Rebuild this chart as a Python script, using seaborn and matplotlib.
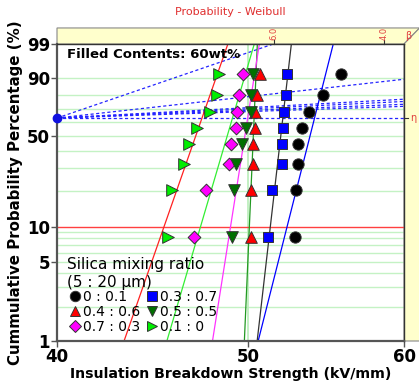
import numpy as np
import pandas as pd
import matplotlib
matplotlib.use('Agg')
import matplotlib.pyplot as plt
import seaborn as sns
from matplotlib.lines import Line2D
from matplotlib.patches import Polygon

# 데이터
ranks = [8.3, 20.2, 32.1, 44.0, 56.0, 67.9, 79.8, 91.7]
labels = ['0 : 0.1', '0.4 : 0.6', '0.7 : 0.3', '0.3 : 0.7', '0.5 : 0.5', '0.1 : 0']
s_0_01 = [52.80, 52.86, 52.98, 53.04, 53.24, 53.72, 54.60, 55.74]
s_04_06 = [50.15, 50.18, 50.30, 50.32, 50.41, 50.43, 50.51, 50.71]
s_07_03 = [46.96, 47.61, 48.90, 49.00, 49.30, 49.35, 49.50, 49.69]
s_03_07 = [51.20, 51.40, 52.01, 52.03, 52.11, 52.12, 52.25, 52.32]
s_05_05 = [49.08, 49.19, 49.30, 49.65, 49.87, 50.16, 50.18, 50.31]
s_01_0 = [45.55, 45.75, 46.40, 46.66, 47.12, 47.83, 48.21, 48.34]

# 회귀선 (1% , 99% 지점의 x값)
fit_lo = [50.60, 49.79, 45.48, 50.54, 47.97, 43.26]
fit_hi = [55.24, 50.55, 50.37, 52.60, 50.67, 48.84]

# beta 보조선 끝점
beta_x = [51.5, 60, 60, 60, 60, 60]
beta_F = [99, 89.2, 77.1, 75.5, 73.5, 72.0]

colors = ['#000000', '#FF0000', '#FF00FF', '#0000FF', '#007000', '#00EE00']
markers = ['o', '^', 'D', 's', 'v', '>']
msize = [66, 70, 42, 58, 70, 70]
line_colors = ['#0000FF', '#229922', '#33EE33', '#333333', '#FF33FF', '#FF2020']

series = [s_0_01, s_04_06, s_07_03, s_03_07, s_05_05, s_01_0]
df = pd.concat([pd.DataFrame({'x': v, 'F': ranks, 'ratio': lab})
                for v, lab in zip(series, labels)])


def fwd(p):
    p = np.clip(np.asarray(p, dtype=float), 1e-4, 99.9999) / 100
    return np.log(-np.log(1 - p))


def inv(w):
    return 100 * (1 - np.exp(-np.exp(w)))


fig = plt.figure(figsize=(4.19, 3.83), dpi=100)
ax = fig.add_axes([57/419, 1-341/383, 347/419, 297/383])
ax.set_xscale('log')
ax.set_yscale('function', functions=(fwd, inv))
ax.set_xlim(40, 60)
ax.set_ylim(1, 99)

# 격자
grid_F = [2, 3, 4, 5, 6, 7, 8, 9, 20, 30, 40, 50, 60, 70, 80, 90]
for g in grid_F:
    ax.axhline(g, color='#C4F2C4', lw=1, zorder=0)
ax.axvline(50, color='#B8EEB8', lw=1.2, zorder=0)
ax.axhline(10, color='#FF4040', lw=1, zorder=1)

# beta / eta 보조선
for bx, bf in zip(beta_x, beta_F):
    ax.plot([40, bx], [63.2, bf], color='#2424FF', lw=0.9, ls=(0, (2.5, 2)), zorder=1)
ax.plot([40, 60], [63.2, 63.2], color='#2424FF', lw=0.9, ls=(0, (2.5, 2)), zorder=1)

# 회귀선
for lo, hi, c in zip(fit_lo, fit_hi, line_colors):
    sns.lineplot(x=[lo, hi], y=[1, 99], color=c, lw=0.9, ax=ax, zorder=2)

# 데이터 점
for lab, m, c, s in zip(labels, markers, colors, msize):
    d = df[df['ratio'] == lab]
    sns.scatterplot(data=d, x='x', y='F', marker=m, color=c, s=s,
                    edgecolor='#333333', linewidth=0.7, ax=ax, zorder=3, legend=False)

ax.plot([40], [63.2], 'o', color='#1010E0', ms=6, clip_on=False, zorder=5)

# 축 설정
ax.set_xticks([40, 50, 60])
ax.set_xticklabels(['40', '50', '60'])
ax.xaxis.set_minor_locator(matplotlib.ticker.NullLocator())
ax.set_yticks([1, 5, 10, 50, 90, 99])
ax.set_yticklabels(['1', '5', '10', '50', '90', '99'])
ax.yaxis.set_minor_locator(matplotlib.ticker.NullLocator())
ax.tick_params(labelsize=12, length=4, width=1, color='#555555', pad=1)
for t in ax.get_xticklabels() + ax.get_yticklabels():
    t.set_fontweight('bold')
ax.set_xlabel('Insulation Breakdown Strength (kV/mm)', fontsize=10.2, fontweight='bold', labelpad=1)
ax.set_ylabel('Cummulative Probability Percentage (%)', fontsize=10.8, fontweight='bold', labelpad=3)
for sp in ['left', 'bottom']:
    ax.spines[sp].set_color('#555555')
    ax.spines[sp].set_linewidth(1.6)
for sp in ['top', 'right']:
    ax.spines[sp].set_color('#333333')
    ax.spines[sp].set_linewidth(1)

# 노란색 beta/eta 띠
top_band = Polygon([(0, 1), (0, 1.054), (1.045, 1.054), (1, 1)], closed=True,
                   transform=ax.transAxes, facecolor='#FFFFCC', edgecolor='#888888',
                   lw=0.8, clip_on=False, zorder=0)
right_band = Polygon([(1, 1), (1.045, 1.054), (1.045, 0), (1, 0)], closed=True,
                     transform=ax.transAxes, facecolor='#FFFFCC', edgecolor='#888888',
                     lw=0.8, clip_on=False, zorder=0)
ax.add_patch(top_band)
ax.add_patch(right_band)
for xb, tb in [(0.625, '6.0'), (0.942, '4.0')]:
    ax.plot([xb, xb], [1.0, 1.012], color='#333333', lw=0.8, transform=ax.transAxes, clip_on=False)
    ax.text(xb, 1.015, tb, rotation=90, color='#E04040', fontsize=6, ha='center', va='bottom',
            transform=ax.transAxes)
ax.text(1.012, 1.027, 'β', color='#E04040', fontsize=7, ha='center', va='center', transform=ax.transAxes)
ax.plot([1.0, 1.012], [0.751, 0.751], color='#333333', lw=0.8, transform=ax.transAxes, clip_on=False)
ax.text(1.026, 0.751, 'η', color='#E04040', fontsize=7, ha='center', va='center', transform=ax.transAxes)

ax.text(0.03, 0.965, 'Filled Contents: 60wt%', fontsize=9.5, fontweight='bold',
        transform=ax.transAxes, ha='left', va='center')
fig.text(0.55, 0.968, 'Probability - Weibull', color='#E03030', fontsize=8, ha='center', va='center')

# 범례
handles = [Line2D([], [], marker=m, color=c, ls='', ms=7.5 if m != 'D' else 6,
                  markeredgecolor='#333333', markeredgewidth=0.7)
           for m, c in zip(markers, colors)]
leg = ax.legend(handles, labels, title='Silica mixing ratio\n(5 : 20 μm)', ncol=2,
                loc='upper left', bbox_to_anchor=(0.0, 0.315), frameon=False,
                fontsize=10, title_fontsize=11, handletextpad=0.0, columnspacing=0.2,
                labelspacing=0.05, handlelength=1.2, alignment='left', borderpad=0.2)

fig.savefig('out.png', dpi=100)
